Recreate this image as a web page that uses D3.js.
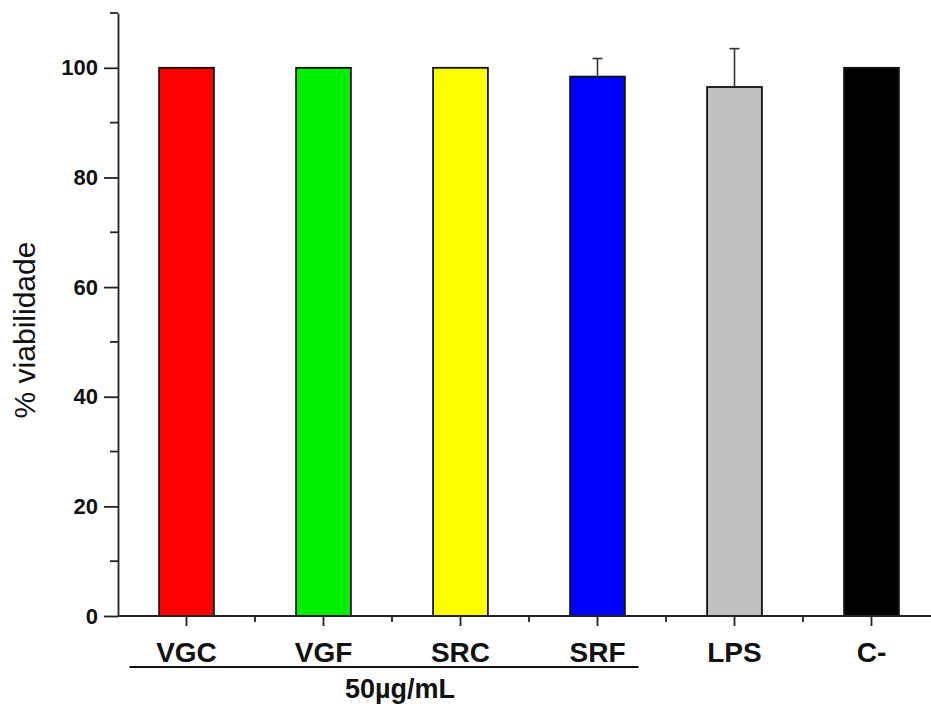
<!DOCTYPE html>
<html>
<head>
<meta charset="utf-8">
<script src="https://cdn.jsdelivr.net/npm/d3@7.9.0/dist/d3.min.js"></script>
<style>
  html, body { margin: 0; padding: 0; background: #fff; }
  svg { display: block; font-family: "Liberation Sans", Arial, sans-serif; }
</style>
</head>
<body>
<svg width="931" height="706"></svg>
<script>
// data
const categories = ['VGC', 'VGF', 'SRC', 'SRF', 'LPS', 'C-'];
const values     = [100, 100, 100, 98.4, 96.5, 100];
const errors     = [0, 0, 0, 3.3, 7.0, 0];
const colorsList = ['#ff0000', '#00ee00', '#ffff00', '#0000ff', '#c0c0c0', '#000000'];
const yTicks     = [0, 20, 40, 60, 80, 100];
const yMinor     = [10, 30, 50, 70, 90, 110];
const groupLabel = '50µg/mL';

const svg = d3.select('svg');

const x0 = 118, x1 = 940;
const yBottom = 616, yTop = 13;

const xc = d3.scaleBand().domain(categories).range([x0, x1]);
const barW = xc.bandwidth() * 0.4;
const y = d3.scaleLinear().domain([0, 110]).range([yBottom, yTop]);
const mid = d => xc(d) + xc.bandwidth() / 2;

const data = categories.map((c, i) => ({ cat: c, v: values[i], e: errors[i], col: colorsList[i] }));

// bars
svg.append('g').selectAll('rect')
  .data(data).enter().append('rect')
    .attr('x', d => mid(d.cat) - barW / 2)
    .attr('y', d => y(d.v))
    .attr('width', barW)
    .attr('height', d => y(0) - y(d.v))
    .attr('fill', d => d.col)
    .attr('stroke', '#111')
    .attr('stroke-width', 1.8);

// error bars (upper only)
const eb = svg.append('g').attr('stroke', '#333').attr('stroke-width', 1.6);
data.filter(d => d.e > 0).forEach(d => {
  eb.append('line').attr('x1', mid(d.cat)).attr('x2', mid(d.cat)).attr('y1', y(d.v)).attr('y2', y(d.v + d.e));
  eb.append('line').attr('x1', mid(d.cat) - 5).attr('x2', mid(d.cat) + 5).attr('y1', y(d.v + d.e)).attr('y2', y(d.v + d.e));
});

// y axis
const yAxis = svg.append('g').attr('transform', `translate(${x0},0)`);
yAxis.call(d3.axisLeft(y).tickValues(yTicks).tickSize(14).tickPadding(6).tickSizeOuter(0));
yAxis.select('.domain').attr('stroke', '#222').attr('stroke-width', 1.8);
yAxis.selectAll('.tick line').attr('stroke', '#222').attr('stroke-width', 1.8);
yAxis.selectAll('.tick text')
  .attr('font-size', 22).attr('font-weight', 'bold').attr('fill', '#111')
  .attr('font-family', '"Liberation Sans", Arial, sans-serif');
yAxis.selectAll('.minor').data(yMinor).enter().append('line')
  .attr('class', 'minor')
  .attr('x1', -8).attr('x2', 0)
  .attr('y1', d => y(d)).attr('y2', d => y(d))
  .attr('stroke', '#222').attr('stroke-width', 1.8);

// x axis
const xAxis = svg.append('g').attr('transform', `translate(0,${yBottom})`);
xAxis.append('line').attr('x1', x0).attr('x2', x1).attr('stroke', '#222').attr('stroke-width', 1.8);
xAxis.selectAll('.major').data(categories).enter().append('line')
  .attr('x1', mid).attr('x2', mid)
  .attr('y1', 0).attr('y2', 10)
  .attr('stroke', '#222').attr('stroke-width', 1.8);
xAxis.selectAll('.minor').data(categories.slice(1)).enter().append('line')
  .attr('x1', d => xc(d)).attr('x2', d => xc(d))
  .attr('y1', 0).attr('y2', 6)
  .attr('stroke', '#222').attr('stroke-width', 1.8);
xAxis.selectAll('.lbl').data(categories).enter().append('text')
  .attr('x', mid)
  .attr('y', 46)
  .attr('text-anchor', 'middle')
  .attr('font-size', 28).attr('font-weight', 'bold').attr('fill', '#111')
  .text(d => d);

// group bracket under the first four categories
svg.append('line')
  .attr('x1', mid(categories[0]) - 57).attr('x2', mid(categories[3]) + 41)
  .attr('y1', 667).attr('y2', 667)
  .attr('stroke', '#111').attr('stroke-width', 2);
svg.append('text')
  .attr('x', 400)
  .attr('y', 698)
  .attr('text-anchor', 'middle')
  .attr('font-size', 27).attr('font-weight', 'bold').attr('fill', '#111')
  .text(groupLabel);

// y title
svg.append('text')
  .attr('transform', 'translate(35,330) rotate(-90)')
  .attr('text-anchor', 'middle')
  .attr('font-size', 30).attr('fill', '#111')
  .text('% viabilidade');
</script>
</body>
</html>
